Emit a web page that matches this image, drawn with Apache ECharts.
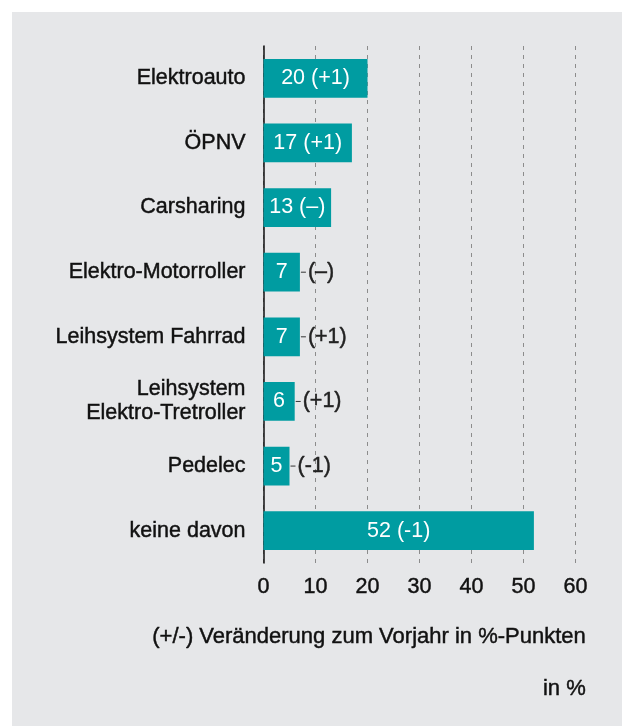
<!DOCTYPE html>
<html>
<head>
<meta charset="utf-8">
<script src="https://cdn.jsdelivr.net/npm/echarts@6/dist/echarts.min.js"></script>
<style>
  html, body { margin: 0; padding: 0; background: #fff; }
  #chart {
    width: 622px; height: 726px;
    background: linear-gradient(#e6e7e9, #e6e7e9) no-repeat 12px 12px / 610px 714px, #fff;
  }
</style>
</head>
<body>
<div id="chart"></div>
<script>
// Nutzung neuer Mobilitätsangebote, Anteil in %
const categories = [
  'Elektroauto',
  'ÖPNV',
  'Carsharing',
  'Elektro-Motorroller',
  'Leihsystem Fahrrad',
  'Leihsystem\nElektro-Tretroller',
  'Pedelec',
  'keine davon'
];
const shares = [20, 17, 13, 7, 7, 6, 5, 52];
const changes = ['+1', '+1', '–', '–', '+1', '+1', '-1', '-1'];
const xTicks = [0, 10, 20, 30, 40, 50, 60];

const FONT = '"Liberation Sans", Arial, sans-serif';
const TEAL = '#009ca1';
const TEXT = '#111111';
const SIZE = 21.5;
// a thin outline in the text colour gives the medium weight of the labels
const medium = color => ({ textBorderColor: color, textBorderWidth: 0.45 });
// bars narrower than this carry the change note outside the bar
const INSIDE_LIMIT = 10;

const chart = echarts.init(document.getElementById('chart'), null, { renderer: 'canvas' });

chart.setOption({
  animation: false,
  textStyle: { fontFamily: FONT },
  grid: { left: 263.5, right: 46.5, top: 46, bottom: 163, containLabel: false },
  xAxis: {
    type: 'value',
    min: xTicks[0],
    max: xTicks[xTicks.length - 1],
    interval: 10,
    axisLine: { show: false },
    axisTick: { show: false },
    axisLabel: Object.assign({ fontSize: SIZE, color: TEXT, margin: 13, fontFamily: FONT }, medium(TEXT)),
    splitLine: { show: true, lineStyle: { color: '#8c8c8c', width: 1, type: [4, 5] } }
  },
  yAxis: {
    type: 'category',
    inverse: true,
    data: categories,
    axisLine: { show: true, lineStyle: { color: '#111', width: 1.5 } },
    axisTick: { show: false },
    axisLabel: Object.assign({ fontSize: SIZE, color: TEXT, margin: 18, lineHeight: 24, fontFamily: FONT }, medium(TEXT))
  },
  series: [
    {
      type: 'bar',
      data: shares,
      barWidth: '60%',
      itemStyle: { color: TEAL },
      z: 2,
      label: {
        show: true,
        position: 'inside',
        color: '#ffffff',
        fontSize: SIZE,
        fontFamily: FONT,
        textBorderColor: 'transparent',
        textBorderWidth: 0,
        formatter: p => p.value >= INSIDE_LIMIT
          ? p.value + ' (' + changes[p.dataIndex] + ')'
          : String(p.value)
      }
    },
    {
      type: 'bar',
      data: shares,
      barWidth: '60%',
      barGap: '-100%',
      itemStyle: { color: 'rgba(0,0,0,0)' },
      z: 3,
      silent: true,
      label: {
        show: true,
        position: 'right',
        distance: 1,
        color: '#222',
        fontSize: SIZE,
        fontFamily: FONT,
        formatter: p => p.value < INSIDE_LIMIT
          ? '{d|}{t|(' + changes[p.dataIndex] + ')}'
          : '',
        rich: {
          d: { width: 5, height: 1, backgroundColor: '#333' },
          t: Object.assign({ fontSize: SIZE, color: '#222', fontFamily: FONT, padding: [0, 0, 0, 2] }, medium('#222'))
        }
      }
    }
  ],
  graphic: [
    {
      type: 'text',
      right: 36,
      top: 626,
      style: Object.assign({
        text: '(+/-) Veränderung zum Vorjahr in %-Punkten',
        font: '22px ' + FONT,
        fill: TEXT,
        stroke: TEXT,
        lineWidth: 0.45
      })
    },
    {
      type: 'text',
      right: 36,
      top: 678,
      style: {
        text: 'in %',
        font: '22px ' + FONT,
        fill: TEXT,
        stroke: TEXT,
        lineWidth: 0.45
      }
    }
  ]
});
</script>
</body>
</html>
